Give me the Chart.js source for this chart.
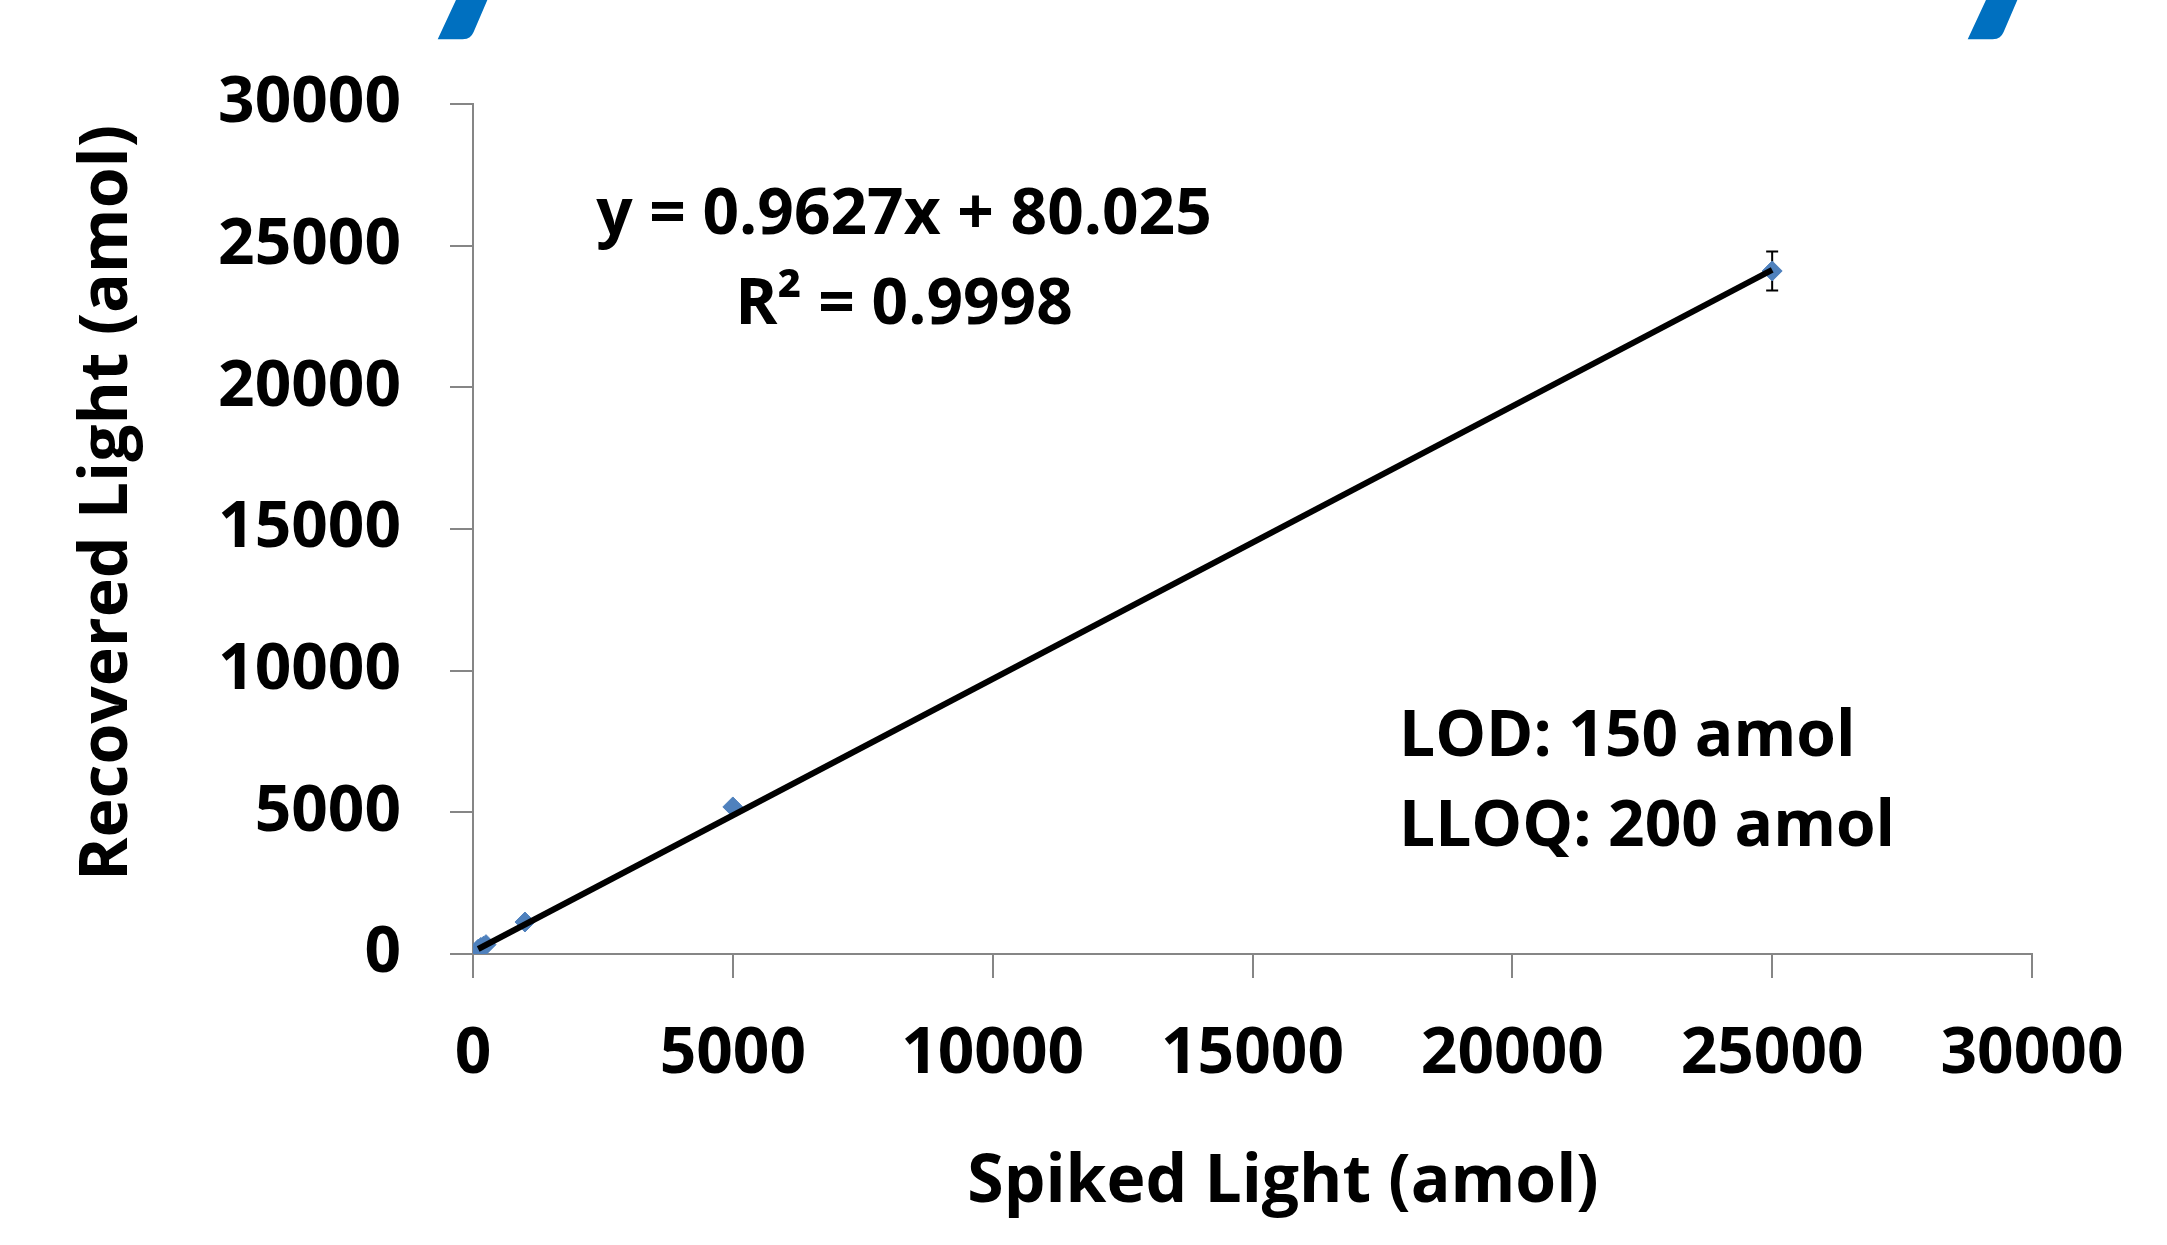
<!DOCTYPE html>
<html>
<head>
<meta charset="utf-8">
<script src="https://cdn.jsdelivr.net/npm/chart.js@4.4.1/dist/chart.umd.min.js"></script>
<style>
html, body { margin: 0; padding: 0; background: #fff; }
</style>
</head>
<body>
<canvas id="chart" width="2167" height="1245"></canvas>
<script>
// spiked vs recovered light peptide (amol)
const spiked = [100, 150, 200, 250, 1000, 5000, 25000];
const recovered = [170, 230, 270, 330, 1129, 5190, 24106];
const errors = [0, 0, 0, 0, 0, 0, 690];

// linear trendline, two ends
const trendX = [100, 25000];
const trendY = [176, 24148];

const xTicks = [0, 5000, 10000, 15000, 20000, 25000, 30000];
const yTicks = [0, 5000, 10000, 15000, 20000, 25000, 30000];

const eqLines = ["y = 0.9627x + 80.025", "R\u00b2 = 0.9998"];
const noteLines = ["LOD: 150 amol", "LLOQ: 200 amol"];
const xTitle = "Spiked Light (amol)";
const yTitle = "Recovered Light (amol)";

const FONT = "'Open Sans', 'Noto Sans', sans-serif";
const axisGray = '#868686';

const errorBars = {
    id: 'errorBars',
    beforeDatasetsDraw(chart) {
        const ctx = chart.ctx;
        const x = chart.scales.x, y = chart.scales.y;
        ctx.save();
        ctx.strokeStyle = '#000';
        ctx.lineWidth = 2;
        spiked.forEach((v, i) => {
            if (!errors[i]) return;
            const px = x.getPixelForValue(v);
            const top = y.getPixelForValue(recovered[i] + errors[i]);
            const bot = y.getPixelForValue(recovered[i] - errors[i]);
            ctx.beginPath();
            ctx.moveTo(px, top); ctx.lineTo(px, bot);
            ctx.moveTo(px - 6, top); ctx.lineTo(px + 6, top);
            ctx.moveTo(px - 6, bot); ctx.lineTo(px + 6, bot);
            ctx.stroke();
        });
        ctx.restore();
    }
};

const textLayer = {
    id: 'textLayer',
    afterDraw(chart) {
        const ctx = chart.ctx;
        ctx.save();
        ctx.fillStyle = '#000';
        ctx.textBaseline = 'alphabetic';

        // equation + R2
        ctx.font = "bold 64px " + FONT;
        ctx.textAlign = 'center';
        ctx.fillText(eqLines[0], 904, 234);
        ctx.fillText(eqLines[1], 904, 324);

        // LOD / LLOQ
        ctx.textAlign = 'left';
        ctx.fillText(noteLines[0], 1399, 756);
        ctx.fillText(noteLines[1], 1399, 846);

        // axis titles
        ctx.font = "bold 66px " + FONT;
        ctx.textAlign = 'center';
        ctx.fillText(xTitle, 1283, 1202);
        ctx.translate(127, 503);
        ctx.rotate(-Math.PI / 2);
        ctx.fillText(yTitle, 0, 0);
        ctx.restore();

        // descenders of the slide title that is cut off above the chart
        ctx.save();
        ctx.fillStyle = '#0070C0';
        ctx.font = "bold 270px Lato, 'Open Sans', sans-serif";
        ctx.textAlign = 'center';
        ctx.fillText('y', 478, -6);
        ctx.fillText('y', 2008, -6);
        ctx.restore();
    }
};

const tickFont = { family: FONT, size: 64, weight: 'bold' };
const plain = v => String(v);

new Chart(document.getElementById('chart').getContext('2d'), {
    type: 'scatter',
    data: {
        datasets: [
            {
                label: 'Trendline',
                data: trendX.map((v, i) => ({ x: v, y: trendY[i] })),
                showLine: true,
                borderColor: '#000',
                borderWidth: 6,
                pointRadius: 0,
                fill: false
            },
            {
                label: 'Recovered',
                data: spiked.map((v, i) => ({ x: v, y: recovered[i] })),
                pointStyle: 'rectRot',
                pointRadius: 10,
                backgroundColor: '#4F81BD',
                borderColor: '#4F81BD',
                borderWidth: 1
            }
        ]
    },
    options: {
        responsive: false,
        animation: false,
        devicePixelRatio: 1,
        layout: { padding: { left: 0, top: 104, right: 135, bottom: 0 } },
        plugins: {
            legend: { display: false },
            tooltip: { enabled: false }
        },
        scales: {
            x: {
                type: 'linear',
                min: 0, max: 30000,
                afterBuildTicks: s => { s.ticks = xTicks.map(v => ({ value: v })); },
                border: { color: axisGray, width: 2 },
                grid: { drawOnChartArea: false, tickLength: 24, color: axisGray, lineWidth: 2 },
                ticks: { font: tickFont, color: '#000', padding: 38, maxRotation: 0, callback: plain },
                afterFit: s => { s.height = 291; }
            },
            y: {
                type: 'linear',
                min: 0, max: 30000,
                afterBuildTicks: s => { s.ticks = yTicks.map(v => ({ value: v })); },
                border: { color: axisGray, width: 2 },
                grid: { drawOnChartArea: false, tickLength: 23, color: axisGray, lineWidth: 2 },
                ticks: { font: tickFont, color: '#000', padding: 49, callback: plain },
                afterFit: s => { s.width = 473; }
            }
        }
    },
    plugins: [errorBars, textLayer]
});
</script>
</body>
</html>
